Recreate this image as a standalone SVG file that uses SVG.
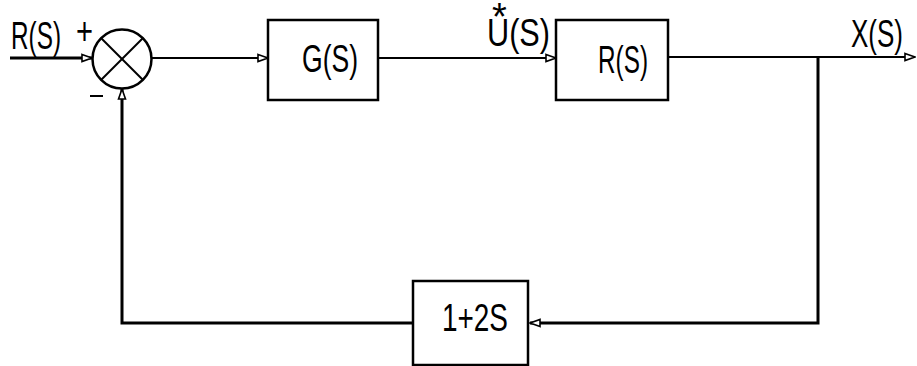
<svg xmlns="http://www.w3.org/2000/svg" width="917" height="366" viewBox="0 0 917 366">
<style>
.box{fill:none;stroke:#000;stroke-width:2.5}
.ln{fill:none;stroke:#000;stroke-width:2}
.thick{fill:none;stroke:#000;stroke-width:3}
.t{font-family:"Liberation Sans","DejaVu Sans",sans-serif;font-size:38px;fill:#000}
</style>
<defs>
<marker id="ah" viewBox="0 0 12 10" refX="11" refY="5" markerWidth="12" markerHeight="10" markerUnits="userSpaceOnUse" orient="auto">
<path d="M1,1.5 L11,5 L1,8.5 Z" fill="#fff" stroke="#000" stroke-width="1.6"/>
</marker>
</defs>
<rect width="917" height="366" fill="#fff"/>
<g id="connectors">
<line class="thick" x1="10" y1="58" x2="92" y2="58" marker-end="url(#ah)"/>
<line class="ln" x1="151" y1="58" x2="268" y2="58" marker-end="url(#ah)"/>
<line class="ln" x1="378" y1="58" x2="556" y2="58" marker-end="url(#ah)"/>
<line class="ln" x1="668" y1="57" x2="915" y2="57" marker-end="url(#ah)"/>
<polyline class="thick" points="818,57 818,323 530,323" marker-end="url(#ah)"/>
<polyline class="thick" points="413,323 122,323 122,89" marker-end="url(#ah)"/>
</g>
<g id="sum">
<circle cx="122" cy="59" r="29.5" class="box"/>
<line class="ln" x1="101" y1="38" x2="143" y2="80"/>
<line class="ln" x1="143" y1="38" x2="101" y2="80"/>
<text class="t" x="76" y="44" font-size="26" textLength="17" lengthAdjust="spacingAndGlyphs">+</text>
<line class="ln" x1="90" y1="96" x2="103" y2="96" stroke-width="2.5"/>
</g>
<g id="label-in">
<text class="t" x="11" y="49" textLength="50" lengthAdjust="spacingAndGlyphs">R(S)</text>
</g>
<g id="G">
<rect class="box" x="268" y="20" width="110" height="80"/>
<text class="t" x="302" y="72" textLength="56" lengthAdjust="spacingAndGlyphs">G(S)</text>
</g>
<g id="label-u">
<text class="t" x="487" y="46" font-size="32" textLength="63" lengthAdjust="spacingAndGlyphs">U(S)</text>
<text class="t" x="492" y="30" font-size="20">*</text>
</g>
<g id="R">
<rect class="box" x="556" y="20" width="112" height="80"/>
<text class="t" x="598" y="73" textLength="50" lengthAdjust="spacingAndGlyphs">R(S)</text>
</g>
<g id="label-x">
<text class="t" x="851" y="47" font-size="34" textLength="52" lengthAdjust="spacingAndGlyphs">X(S)</text>
</g>
<g id="H">
<rect class="box" x="413" y="281" width="115" height="84"/>
<text class="t" x="442" y="331" font-size="30" textLength="66" lengthAdjust="spacingAndGlyphs">1+2S</text>
</g>
</svg>
